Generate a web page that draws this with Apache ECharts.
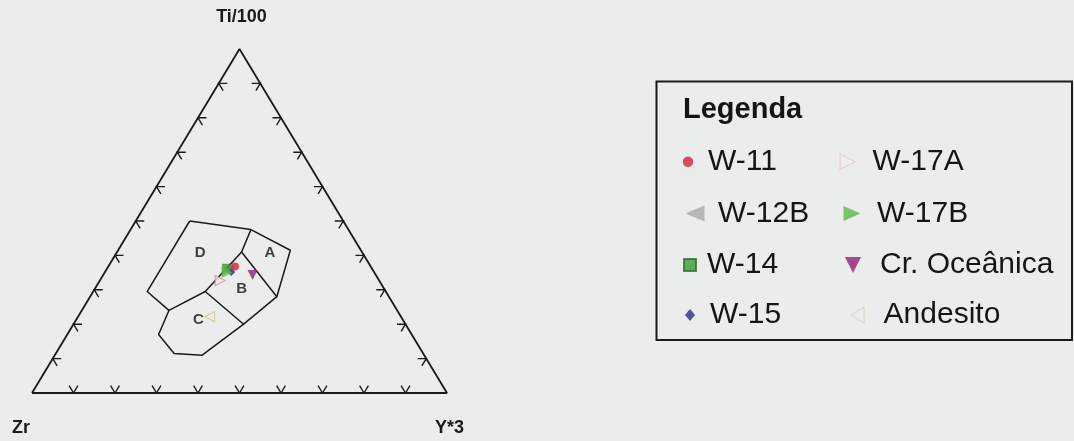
<!DOCTYPE html>
<html>
<head>
<meta charset="utf-8">
<title>Ti-Zr-Y</title>
<script src="https://cdn.jsdelivr.net/npm/echarts@6.0.0/dist/echarts.min.js"></script>
<style>
  html, body { margin: 0; padding: 0; background: #ebedec; }
  #chart { width: 1074px; height: 441px; }
</style>
</head>
<body>
<div id="chart"></div>
<script>
// Compositions are ternary percentages: [Ti/100, Zr, Y*3]
const axisTitles = ['Ti/100', 'Zr', 'Y*3'];
const tickSteps = [10, 20, 30, 40, 50, 60, 70, 80, 90];

// Discrimination fields A-D
const fieldOutline = [
  [50, 37, 13], [47.5, 23.5, 29], [41.5, 17, 41.5], [28, 27, 45], [20, 39, 41],
  [11, 53.5, 35.5], [11.5, 60, 28.5], [17, 61, 22], [24, 55, 21], [29.5, 57.5, 13], [50, 37, 13]
];
const boundaryD = [[24, 55, 21], [29.5, 43.5, 27], [41, 29, 30], [47.5, 23.5, 29]];
const boundaryAB = [[41, 29, 30], [28, 27, 45]];
const boundaryBC = [[29.5, 43.5, 27], [20, 39, 41]];
const fieldNames = ['A', 'B', 'C', 'D'];
const fieldLabelAt = [[40.6, 22.4, 37], [30.4, 34.3, 35.3], [21.2, 49.3, 29.5], [40.6, 39.2, 20.2]];

// Samples
const sampleNames = ['W-11', 'W-12B', 'W-14', 'W-15', 'W-17A', 'W-17B', 'Cr. Oceânica', 'Andesito'];
const w11 = [[36.8, 32.7, 30.5]];
const w12b = [[36.0, 34.6, 29.4]];
const w14 = [[36.3, 35.0, 28.7]];
const w15 = [[35.2, 34.4, 30.4]];
const w17a = [[32.7, 38.3, 29.0]];
const w17b = [[35.0, 35.5, 29.5]];
const crOceanica = [[34.3, 29.7, 36.0]];
const andesito = [[22.2, 46.1, 31.7]];

const BG = '#ebedec';
const INK = '#1a1a1a';
const FONT = '"Liberation Sans", Arial, sans-serif';

// Outline paths for the legend keys (width x height in px)
const ICON = {
  circle: function (w) { const r = w / 2; return 'path://M' + r + ',0A' + r + ',' + r + ',0,1,1,' + r + ',' + w + 'A' + r + ',' + r + ',0,1,1,' + r + ',0Z'; },
  rect: function (w, h) { return 'path://M0,0L' + w + ',0L' + w + ',' + h + 'L0,' + h + 'Z'; },
  diamond: function (w, h) { return 'path://M' + w / 2 + ',0L' + w + ',' + h / 2 + 'L' + w / 2 + ',' + h + 'L0,' + h / 2 + 'Z'; },
  right: function (w, h) { return 'path://M0,0L' + w + ',' + h / 2 + 'L0,' + h + 'Z'; },
  left: function (w, h) { return 'path://M' + w + ',0L0,' + h / 2 + 'L' + w + ',' + h + 'Z'; },
  down: function (w, h) { return 'path://M0,0L' + w + ',0L' + w / 2 + ',' + h + 'Z'; }
};

// ternary -> plane: x runs Zr(0) .. Y(100), y is Ti height
function toXY(c) {
  const s = c[0] + c[1] + c[2];
  const ti = c[0] / s * 100, y = c[2] / s * 100;
  return [y + ti / 2, ti];
}

const frame = [[0, 100, 0], [0, 0, 100], [100, 0, 0], [0, 100, 0]].map(toXY);

const ticks = [];
tickSteps.forEach(function (s) {
  ticks.push(toXY([0, 100 - s, s]).concat(0));   // base Zr - Y
  ticks.push(toXY([s, 100 - s, 0]).concat(1));   // left Zr - Ti
  ticks.push(toXY([s, 0, 100 - s]).concat(2));   // right Y - Ti
});

function lineSeries(pts, width) {
  return {
    type: 'line', data: pts.map(toXY), symbol: 'none', silent: true, z: 2,
    lineStyle: { color: INK, width: width }, animation: false
  };
}

function sampleSeries(name, pts, symbol, size, rotate, style) {
  return {
    name: name, type: 'scatter', data: pts.map(toXY), symbol: symbol,
    symbolSize: size, symbolRotate: rotate, itemStyle: style, z: 5, animation: false
  };
}

// One legend block per key: icon centre x, row centre y, icon size, text start x.
// The block is placed by its drawn content, so its left edge is the icon's left edge.
function legendKey(name, cx, cy, iconFn, iw, ih, textX, itemStyle) {
  const w = 2 * (textX - 5 - cx);
  const item = { name: name, icon: iconFn(iw, ih) };
  if (itemStyle) item.itemStyle = itemStyle;
  return {
    data: [item], orient: 'vertical', left: cx - iw / 2, top: cy - 15, padding: 0,
    itemWidth: w, itemHeight: ih, selectedMode: false, symbolKeepAspect: true,
    textStyle: { fontFamily: FONT, fontSize: 30, lineHeight: 30, color: '#151515' }
  };
}

const rowY = [161.7, 213.5, 265, 315];

const chart = echarts.init(document.getElementById('chart'), null, { renderer: 'canvas' });

chart.setOption({
  backgroundColor: BG,
  animation: false,
  grid: { left: 32, top: 49, width: 415, height: 344 },
  xAxis: { type: 'value', min: 0, max: 100, show: false },
  yAxis: { type: 'value', min: 0, max: 100, show: false },
  legend: [
    legendKey(sampleNames[0], 688, rowY[0], ICON.circle, 10.5, 10.5, 708),
    legendKey(sampleNames[1], 695, rowY[1], ICON.left, 19, 16, 718),
    legendKey(sampleNames[2], 689, rowY[2], ICON.rect, 12, 12, 706),
    legendKey(sampleNames[3], 690, rowY[3], ICON.diamond, 10, 12, 710),
    legendKey(sampleNames[4], 847, rowY[0], ICON.right, 15, 16, 872,
      { color: BG, borderColor: '#e9c3cc', borderWidth: 1.2 }),
    legendKey(sampleNames[5], 852, rowY[1], ICON.right, 17, 15, 877),
    legendKey(sampleNames[6], 853, rowY[2], ICON.down, 16, 16, 880),
    legendKey(sampleNames[7], 857, rowY[3], ICON.left, 13, 16, 883,
      { color: BG, borderColor: '#d9d2c0', borderWidth: 1.2 })
  ],
  graphic: [
    { type: 'rect', shape: { x: 656.5, y: 81.5, width: 415.5, height: 258.5 },
      style: { fill: null, stroke: INK, lineWidth: 2 }, z: 1 },
    { type: 'text', x: 683, y: 110, style: { text: 'Legenda', fontFamily: FONT, fontSize: 29,
      fontWeight: 'bold', fill: '#151515', verticalAlign: 'middle' } },
    { type: 'text', x: 241.5, y: 17, style: { text: axisTitles[0], fontFamily: FONT, fontSize: 18,
      fontWeight: 'bold', fill: INK, align: 'center', verticalAlign: 'middle' } },
    { type: 'text', x: 12, y: 428, style: { text: axisTitles[1], fontFamily: FONT, fontSize: 18,
      fontWeight: 'bold', fill: INK, verticalAlign: 'middle' } },
    { type: 'text', x: 435, y: 428, style: { text: axisTitles[2], fontFamily: FONT, fontSize: 18,
      fontWeight: 'bold', fill: INK, verticalAlign: 'middle' } }
  ],
  series: [
    {
      type: 'line', data: frame, symbol: 'none', silent: true, z: 2, animation: false,
      lineStyle: { color: INK, width: 1.8 }
    },
    {
      type: 'custom', data: ticks, silent: true, z: 2, animation: false,
      renderItem: function (params, api) {
        const edge = api.value(2);
        const p = api.coord([api.value(0), api.value(1)]);
        const Z = api.coord([0, 0]), Y = api.coord([100, 0]), T = api.coord([50, 100]);
        const unit = function (a, b) {
          const dx = b[0] - a[0], dy = b[1] - a[1], l = Math.hypot(dx, dy);
          return [dx / l, dy / l];
        };
        let d1, d2;
        if (edge === 0) { d1 = unit(Z, T); d2 = unit(Y, T); }
        else if (edge === 1) { d1 = unit(Z, Y); d2 = unit(T, Y); }
        else { d1 = unit(Y, Z); d2 = unit(T, Z); }
        const L = 8.5;
        return {
          type: 'polyline',
          shape: { points: [[p[0] + d1[0] * L, p[1] + d1[1] * L], p, [p[0] + d2[0] * L, p[1] + d2[1] * L]] },
          style: { stroke: INK, lineWidth: 1.4, fill: null }
        };
      }
    },
    lineSeries(fieldOutline, 1.5),
    lineSeries(boundaryD, 1.5),
    lineSeries(boundaryAB, 1.5),
    lineSeries(boundaryBC, 1.5),
    {
      type: 'scatter', silent: true, symbolSize: 0, z: 3, animation: false,
      data: fieldLabelAt.map(function (c, i) { return { name: fieldNames[i], value: toXY(c) }; }),
      label: { show: true, position: 'inside', formatter: '{b}', fontFamily: FONT, fontSize: 15,
        fontWeight: 'bold', color: '#111' }
    },
    sampleSeries(sampleNames[1], w12b, 'triangle', 10, 90, { color: '#a6a8ae' }),
    sampleSeries(sampleNames[4], w17a, 'triangle', 10, -90, { color: BG, borderColor: '#e08aa0', borderWidth: 1.2 }),
    sampleSeries(sampleNames[3], w15, 'diamond', 8, 0, { color: '#2e2e80' }),
    sampleSeries(sampleNames[0], w11, 'circle', 8, 0, { color: '#d91f3b' }),
    sampleSeries(sampleNames[2], w14, 'rect', 8, 0, { color: '#3d9a3a', borderColor: '#2f6f2c', borderWidth: 0.6 }),
    sampleSeries(sampleNames[5], w17b, 'triangle', 11, -90, { color: '#5cb848' }),
    sampleSeries(sampleNames[6], crOceanica, 'triangle', 10, 180, { color: '#931b78' }),
    sampleSeries(sampleNames[7], andesito, 'triangle', 10, 90, { color: BG, borderColor: '#d6c68a', borderWidth: 1.2 })
  ]
});
</script>
</body>
</html>
